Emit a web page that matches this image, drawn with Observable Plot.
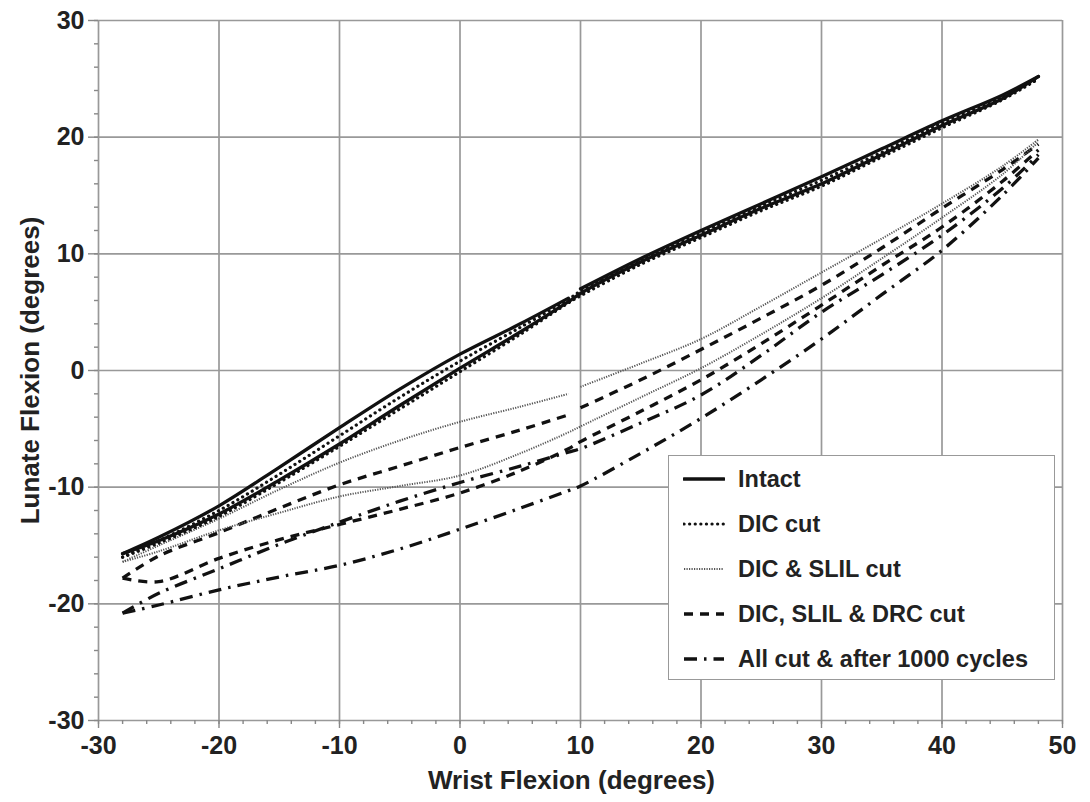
<!DOCTYPE html>
<html>
<head>
<meta charset="utf-8">
<script src="https://cdn.jsdelivr.net/npm/d3@7"></script>
<script src="https://cdn.jsdelivr.net/npm/@observablehq/plot@0.6"></script>
<style>
  html, body { margin: 0; padding: 0; background: #fff; }
  #wrap { position: relative; width: 1090px; height: 802px; font-family: "Liberation Sans", Arial, sans-serif; }
  #legend { position: absolute; left: 668px; top: 455px; width: 385px; height: 223px;
            border: 1.5px solid #999; background: #fff; box-sizing: content-box; }
  .row { position: absolute; left: 0; height: 30px; display: flex; align-items: center; }
  .row span { font-weight: bold; font-size: 23.5px; color: #222; margin-left: 13px; white-space: nowrap; }
</style>
</head>
<body>
<div id="wrap"><div id="chart"></div><div id="legend"></div></div>
<script>
// ---- data ----
const xs = [-28, -25, -20, -15, -10, -5, 0, 5, 9, 10, 15, 20, 25, 30, 35, 40, 45, 48];

const intactUp = [-15.7, -14.3, -11.6, -8.3, -4.9, -1.6, 1.4, 4.0, 6.2, 7.0, 9.6, 12.0, 14.3, 16.6, 19.0, 21.4, 23.6, 25.2];
const intactLo = [-15.7, -14.6, -12.3, -9.4, -6.3, -3.0, 0.2, 3.3, 5.9, 6.6, 9.3, 11.6, 13.9, 16.0, 18.5, 21.0, 23.3, 25.2];
const dicUp    = [-16.0, -14.6, -12.0, -8.9, -5.6, -2.3, 0.8, 3.7, 6.1, 6.8, 9.4, 11.8, 14.1, 16.3, 18.7, 21.2, 23.4, 25.0];
const dicLo    = [-16.0, -14.8, -12.5, -9.6, -6.5, -3.3, -0.1, 3.1, 5.8, 6.4, 9.1, 11.4, 13.7, 15.8, 18.3, 20.8, 23.2, 25.0];
const slilUp   = [-16.4, -15.0, -12.7, -10.2, -7.9, -6.0, -4.4, -3.1, -2.0, -1.4, 0.6, 2.7, 5.5, 8.4, 11.3, 14.3, 17.5, 19.8];
const slilLo   = [-16.4, -15.5, -13.7, -12.2, -10.8, -9.9, -9.0, -7.1, -5.3, -4.8, -2.3, 0.2, 3.1, 6.2, 9.6, 13.1, 16.8, 19.6];
const drcUp    = [-17.8, -15.9, -13.9, -11.8, -9.8, -8.2, -6.6, -5.1, -3.8, -3.2, -0.8, 1.8, 4.5, 7.3, 10.5, 13.9, 17.2, 19.4];
const drcLo    = [-17.8, -18.1, -16.1, -14.5, -13.2, -11.9, -10.5, -8.6, -6.7, -6.1, -3.5, -0.8, 2.3, 5.6, 9.0, 12.3, 16.2, 18.9];
const allUp    = [-20.8, -19.1, -17.0, -14.9, -13.0, -11.2, -9.6, -8.2, -7.0, -6.7, -4.5, -2.1, 1.3, 5.0, 8.2, 11.6, 15.6, 18.5];
const allLo    = [-20.8, -20.1, -18.8, -17.7, -16.7, -15.3, -13.6, -11.8, -10.3, -9.9, -7.1, -4.1, -0.8, 2.7, 6.5, 10.3, 15.0, 18.2];

const seriesNames = ["Intact", "DIC cut", "DIC & SLIL cut", "DIC, SLIL & DRC cut", "All cut & after 1000 cycles"];
const xTicks = [-30, -20, -10, 0, 10, 20, 30, 40, 50];
const yTicks = [-30, -20, -10, 0, 10, 20, 30];
const xTitle = "Wrist Flexion (degrees)";
const yTitle = "Lunate Flexion (degrees)";

// ---- styles ----
const styles = {
  "Intact":                       {stroke: "#111", strokeWidth: 3.3, dash: null, cap: "round", gap: true},
  "DIC cut":                      {stroke: "#111", strokeWidth: 3.2, dash: "0.1 5.5", cap: "round", gap: false},
  "DIC & SLIL cut":               {stroke: "#555", strokeWidth: 2, dash: "1.2 1.3", cap: "butt", gap: true},
  "DIC, SLIL & DRC cut":          {stroke: "#111", strokeWidth: 3.3, dash: "9 7", cap: "butt", gap: true},
  "All cut & after 1000 cycles":  {stroke: "#111", strokeWidth: 3.3, dash: "13 7 2.5 7", cap: "butt", gap: false}
};
const branches = {
  "Intact": [intactUp, intactLo],
  "DIC cut": [dicUp, dicLo],
  "DIC & SLIL cut": [slilUp, slilLo],
  "DIC, SLIL & DRC cut": [drcUp, drcLo],
  "All cut & after 1000 cycles": [allUp, allLo]
};

const rows = [];
for (const name of seriesNames) {
  const [up, lo] = branches[name];
  xs.forEach((x, i) => {
    rows.push({series: name, branch: "up", seg: (styles[name].gap && x > 9.5) ? 1 : 0, x, y: up[i]});
    rows.push({series: name, branch: "lo", seg: 0, x, y: lo[i]});
  });
}

const font = "'Liberation Sans', Arial, sans-serif";
const fmt = d => String(d);

const lineMarks = seriesNames.slice().reverse().map(name => {
  const s = styles[name];
  return Plot.line(rows.filter(d => d.series === name), {
    x: "x", y: "y", z: d => d.branch + d.seg,
    stroke: s.stroke, strokeWidth: s.strokeWidth,
    strokeDasharray: s.dash || undefined, strokeLinecap: s.cap,
    curve: "catmull-rom"
  });
});

const chart = Plot.plot({
  width: 1090, height: 802,
  marginLeft: 98, marginRight: 28, marginTop: 20, marginBottom: 82,
  style: {fontFamily: font, background: "#fff", overflow: "visible"},
  x: {domain: [-30, 50]},
  y: {domain: [-30, 30]},
  marks: [
    Plot.ruleX(xTicks, {stroke: "#999", strokeWidth: 1.7}),
    Plot.ruleY(yTicks, {stroke: "#999", strokeWidth: 1.7}),
    Plot.axisX(d3.range(-30, 51, 2), {tickSize: 4, tickFormat: () => "", label: null, stroke: "#888", strokeWidth: 1.4}),
    Plot.axisY(d3.range(-30, 31, 2), {tickSize: 4, tickFormat: () => "", label: null, stroke: "#888", strokeWidth: 1.4}),
    Plot.axisX(xTicks, {tickSize: 8, tickPadding: 8, tickFormat: fmt, label: null, fontSize: 25, fontWeight: "bold", fill: "#222", stroke: "#888", strokeWidth: 1.4}),
    Plot.axisY(yTicks, {tickSize: 10, tickPadding: 4, tickFormat: fmt, label: null, fontSize: 25, fontWeight: "bold", fill: "#222", stroke: "#888", strokeWidth: 1.4}),
    ...lineMarks,
    Plot.text([xTitle], {frameAnchor: "bottom", dx: -9, dy: 60, lineAnchor: "middle", textAnchor: "middle", fontSize: 26, fontWeight: "bold", fill: "#222"}),
    Plot.text([yTitle], {frameAnchor: "left", dx: -68, rotate: -90, lineAnchor: "middle", textAnchor: "middle", fontSize: 26, fontWeight: "bold", fill: "#222"})
  ]
});
document.getElementById("chart").appendChild(chart);

// ---- legend ----
const legend = document.getElementById("legend");
seriesNames.forEach((name, i) => {
  const s = styles[name];
  const row = document.createElement("div");
  row.className = "row";
  row.style.top = (8 + i * 45) + "px";
  row.style.left = "14px";
  const svg = d3.create("svg").attr("width", 42).attr("height", 30);
  svg.append("line").attr("x1", 1).attr("x2", 41).attr("y1", 15).attr("y2", 15)
    .attr("stroke", s.stroke).attr("stroke-width", s.strokeWidth)
    .attr("stroke-dasharray", s.dash).attr("stroke-linecap", s.cap);
  row.appendChild(svg.node());
  const span = document.createElement("span");
  span.textContent = name;
  row.appendChild(span);
  legend.appendChild(row);
});
</script>
</body>
</html>
